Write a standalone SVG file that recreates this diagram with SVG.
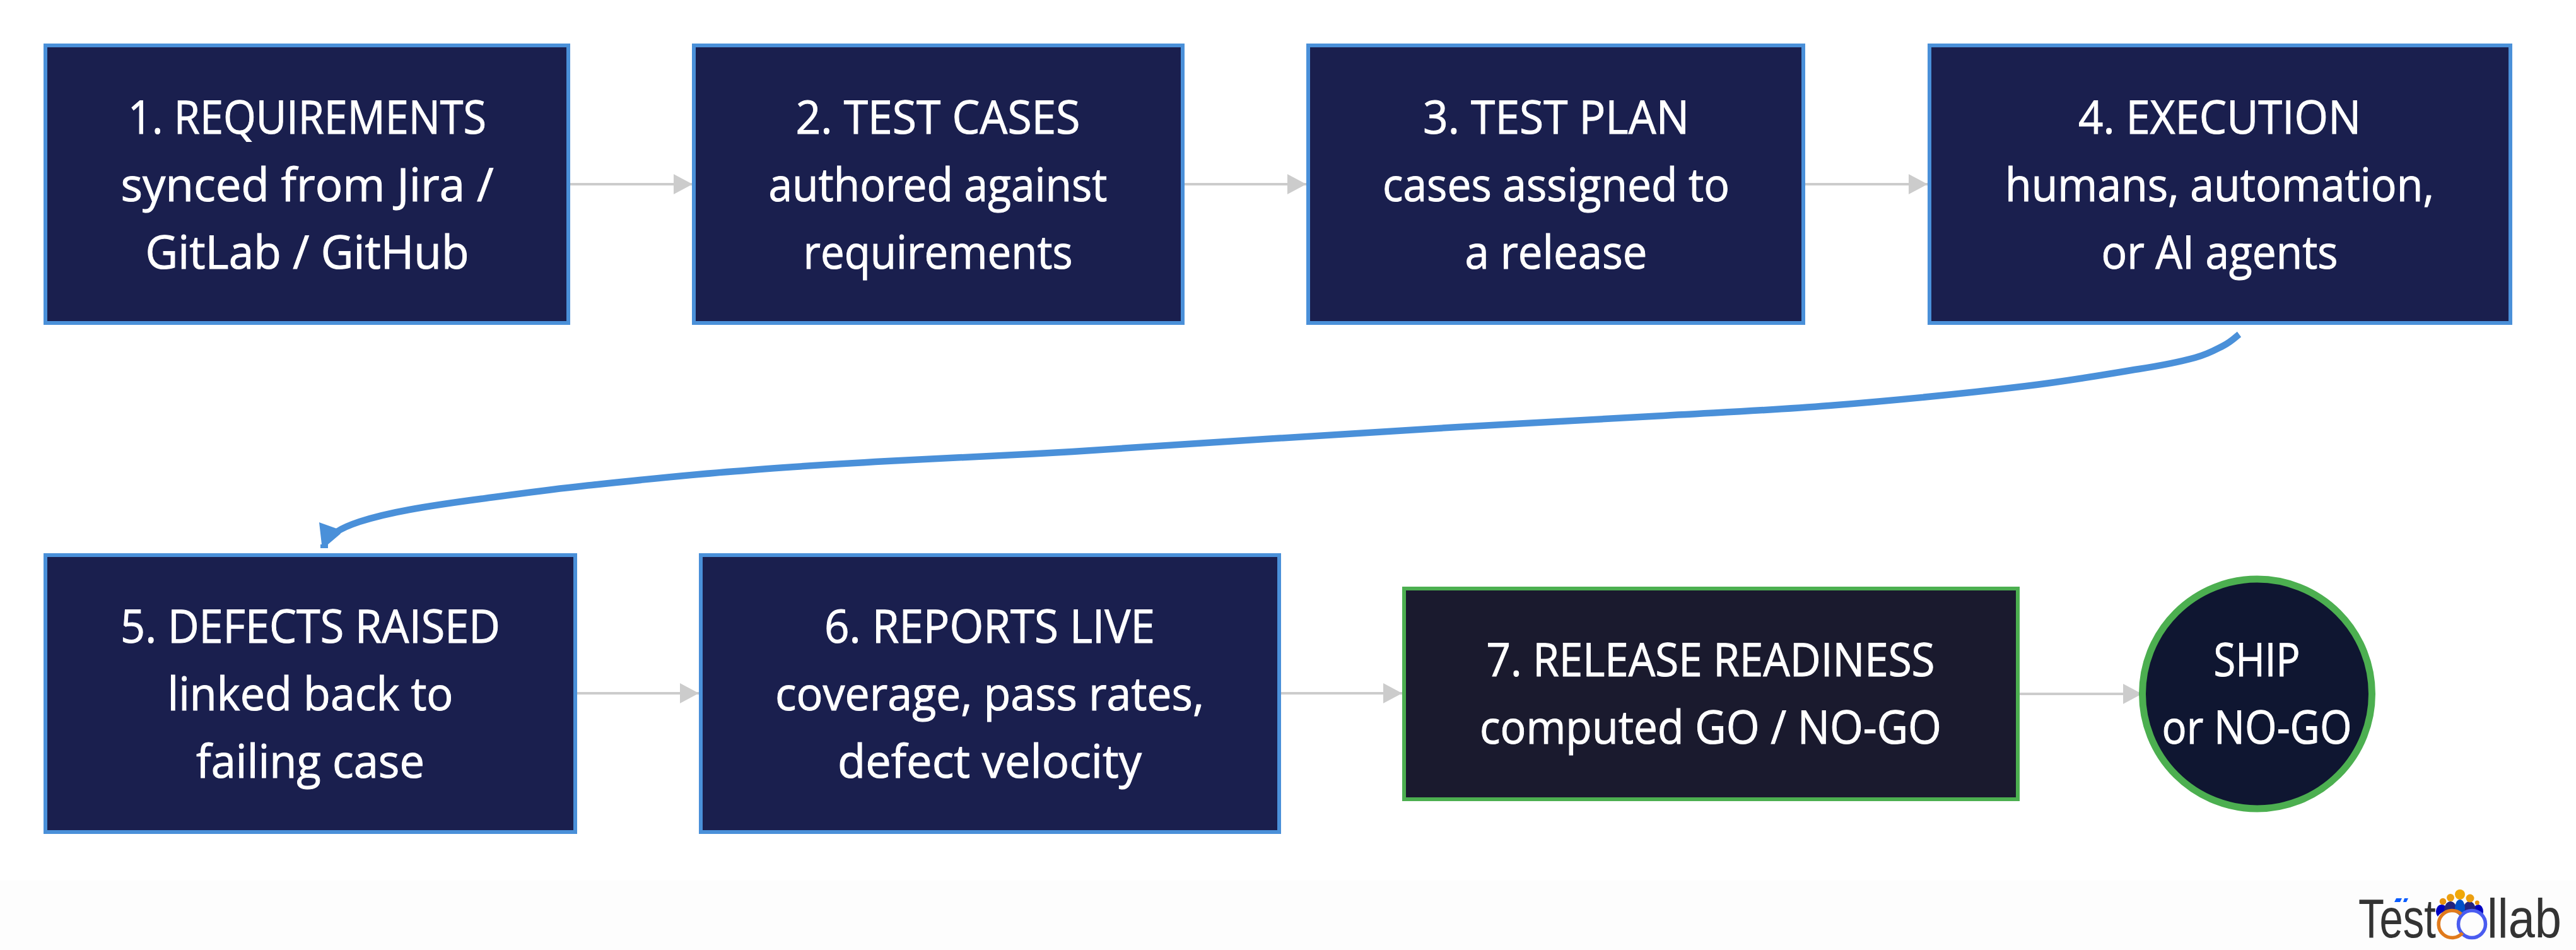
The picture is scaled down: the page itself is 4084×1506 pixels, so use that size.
<svg xmlns="http://www.w3.org/2000/svg" width="4084" height="1506" viewBox="0 0 4084 1506">
<style>
.n{fill:#1a1f4e;stroke:#4a90d9;stroke-width:6}
.g{stroke:#4caf50}
text.t{font-family:"Open Sans","Noto Sans",sans-serif;font-size:73px;fill:#fff;stroke:#fff;stroke-width:1;text-anchor:middle}
.e{fill:none;stroke:#ccc;stroke-width:4}
.logo{font-family:"Liberation Sans",sans-serif;font-size:88px;fill:#333}
</style>
<defs><marker id="a" markerUnits="userSpaceOnUse" markerWidth="31" markerHeight="34" refX="30" refY="17" orient="auto"><path d="M0,1L30,17L0,33Z" fill="#ccc"/></marker></defs>
<rect width="4084" height="1506" fill="#fff"/>
<rect y="1396" width="4084" height="110" fill="#fdfdfd"/>
<g id="connectors">
<path class="e" d="M904,292H1098" marker-end="url(#a)"/>
<path class="e" d="M1878,292H2071" marker-end="url(#a)"/>
<path class="e" d="M2862,292H3056" marker-end="url(#a)"/>
<path class="e" d="M915,1099H1108" marker-end="url(#a)"/>
<path class="e" d="M2031,1099H2223" marker-end="url(#a)"/>
<path class="e" d="M3202,1100H3396" marker-end="url(#a)"/>
<path fill="none" stroke="#4a90d9" stroke-width="10.500" d="M3550,530C3546,533 3537,542 3525,548C3513,554 3502,561 3480,567C3458,573 3436,578 3391,585C3346,592 3294,602 3212,612C3130,622 2999,635 2900,643C2801,651 2716,654 2618,660C2520,666 2414,671 2312,677C2210,683 2108,689 2006,696C1904,702 1800,710 1700,716C1600,722 1496,726 1407,731C1318,736 1247,740 1167,747C1087,753 994,763 928,770C862,777 815,784 769,790C723,796 682,802 649,808C616,814 589,821 570,827C552,833 540,839 534,843"/>
<path fill="#4a90d9" d="M506,828L534,838L540,846L520,863V869H508V863H510Z"/>
</g>
<g id="n1"><rect class="n" x="72" y="72" width="829" height="440"/><text class="t" x="487" y="212" textLength="568" lengthAdjust="spacingAndGlyphs">1. REQUIREMENTS</text><text class="t" x="487" y="319" textLength="591" lengthAdjust="spacingAndGlyphs">synced from Jira /</text><text class="t" x="487" y="426" textLength="513" lengthAdjust="spacingAndGlyphs">GitLab / GitHub</text></g>
<g id="n2"><rect class="n" x="1100" y="72" width="775" height="440"/><text class="t" x="1487" y="212" textLength="451" lengthAdjust="spacingAndGlyphs">2. TEST CASES</text><text class="t" x="1487" y="319" textLength="537" lengthAdjust="spacingAndGlyphs">authored against</text><text class="t" x="1487" y="426" textLength="427" lengthAdjust="spacingAndGlyphs">requirements</text></g>
<g id="n3"><rect class="n" x="2074" y="72" width="785" height="440"/><text class="t" x="2467" y="212" textLength="422" lengthAdjust="spacingAndGlyphs">3. TEST PLAN</text><text class="t" x="2467" y="319" textLength="550" lengthAdjust="spacingAndGlyphs">cases assigned to</text><text class="t" x="2467" y="426" textLength="289" lengthAdjust="spacingAndGlyphs">a release</text></g>
<g id="n4"><rect class="n" x="3059" y="72" width="921" height="440"/><text class="t" x="3519" y="212" textLength="448" lengthAdjust="spacingAndGlyphs">4. EXECUTION</text><text class="t" x="3519" y="319" textLength="680" lengthAdjust="spacingAndGlyphs">humans, automation,</text><text class="t" x="3519" y="426" textLength="375" lengthAdjust="spacingAndGlyphs">or AI agents</text></g>
<g id="n5"><rect class="n" x="72" y="880" width="840" height="439"/><text class="t" x="492" y="1019" textLength="602" lengthAdjust="spacingAndGlyphs">5. DEFECTS RAISED</text><text class="t" x="492" y="1126" textLength="453" lengthAdjust="spacingAndGlyphs">linked back to</text><text class="t" x="492" y="1233" textLength="362" lengthAdjust="spacingAndGlyphs">failing case</text></g>
<g id="n6"><rect class="n" x="1111" y="880" width="917" height="439"/><text class="t" x="1569" y="1019" textLength="524" lengthAdjust="spacingAndGlyphs">6. REPORTS LIVE</text><text class="t" x="1569" y="1126" textLength="680" lengthAdjust="spacingAndGlyphs">coverage, pass rates,</text><text class="t" x="1569" y="1233" textLength="482" lengthAdjust="spacingAndGlyphs">defect velocity</text></g>
<g id="n7"><rect class="n g" x="2226" y="933" width="973" height="334" style="fill:#1a1a2e"/><text class="t" x="2712" y="1072" textLength="711" lengthAdjust="spacingAndGlyphs">7. RELEASE READINESS</text><text class="t" x="2712" y="1179" textLength="732" lengthAdjust="spacingAndGlyphs">computed GO / NO-GO</text></g>
<g id="n8"><circle cx="3578.500" cy="1100" r="182" fill="#0f1631" stroke="#4caf50" stroke-width="11"/><text class="t" x="3578" y="1072" textLength="137" lengthAdjust="spacingAndGlyphs">SHIP</text><text class="t" x="3578" y="1179" textLength="301" lengthAdjust="spacingAndGlyphs">or NO-GO</text></g>
<g id="logo">
<path fill="#0a5cff" d="M3799,1424H3808L3805,1430H3796ZM3812,1424H3818L3815,1430H3810Z"/>
<ellipse cx="3871" cy="1445" rx="9" ry="11" fill="#0000c0"/><ellipse cx="3929" cy="1445" rx="8" ry="11" fill="#0000c0"/>
<ellipse cx="3885" cy="1443" rx="10" ry="14" fill="#23237f"/><ellipse cx="3915" cy="1443" rx="10" ry="14" fill="#23237f"/>
<ellipse cx="3900" cy="1440" rx="8" ry="14" fill="#0050c8"/>
<circle cx="3900" cy="1418" r="8" fill="#f0a808"/><circle cx="3885" cy="1423" r="6" fill="#ec9f10"/><circle cx="3916" cy="1424" r="6.500" fill="#ec9f10"/><circle cx="3873" cy="1429" r="5.300" fill="#e8930f"/><circle cx="3927.300" cy="1431" r="3.500" fill="#e8930f"/>
<circle cx="3882.500" cy="1465" r="21.500" fill="#fdfdfd"/>
<circle cx="3919" cy="1465" r="21.500" fill="#fdfdfd" stroke="#4a5cf0" stroke-width="5.500"/>
<path fill="none" stroke="#e07a1c" stroke-width="5.500" d="M3902,1449A21.500,21.500 0 1 0 3904,1479"/>
<text class="logo" x="3739" y="1486" textLength="123" lengthAdjust="spacingAndGlyphs">Test</text>
<text class="logo" x="3943" y="1486" textLength="118" lengthAdjust="spacingAndGlyphs">llab</text>
</g>
</svg>
